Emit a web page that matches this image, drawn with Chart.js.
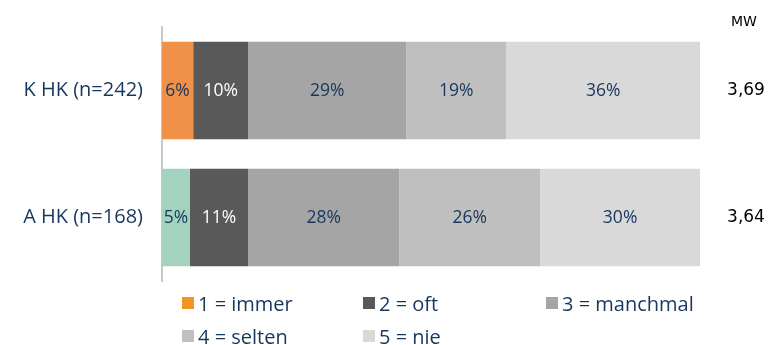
<!DOCTYPE html>
<html><head><meta charset="utf-8">
<script src="https://cdn.jsdelivr.net/npm/chart.js@4.4.1/dist/chart.umd.min.js"></script>
<style>
html,body{margin:0;padding:0;background:#fff;}
#wrap{position:relative;width:774px;height:345px;}
#legend{position:absolute;left:0;top:0;width:774px;height:345px;pointer-events:none;font-family:"Open Sans",sans-serif;font-size:20px;color:#17375E;}
.li{position:absolute;display:flex;align-items:center;white-space:nowrap;height:24px;}
.sw{width:12px;height:12px;margin-right:4px;}
</style></head>
<body><div id="wrap"><canvas id="c" width="774" height="345"></canvas><div id="legend"></div></div>
<script>
const categories = ["K HK (n=242)", "A HK (n=168)"];
const seriesNames = ["1 = immer", "2 = oft", "3 = manchmal", "4 = selten", "5 = nie"];
const immer    = [5.8, 5.2];
const oft      = [10.2, 10.8];
const manchmal = [29.4, 28.1];
const selten   = [18.6, 26.2];
const nie      = [36.0, 29.7];
const pctLabels = [["6%","5%"],["10%","11%"],["29%","28%"],["19%","26%"],["36%","30%"]];
const mwHeader = "MW";
const mwValues = ["3,69", "3,64"];

const seriesData = [immer, oft, manchmal, selten, nie];
const barColors = [["#F0914A","#A3D3BE"], "#595959", "#A5A5A5", "#BFBFBF", "#D9D9D9"];
const legendColors = ["#F39325", "#595959", "#A5A5A5", "#BFBFBF", "#D9D9D9"];
const labelColors = ["#17375E", "#FFFFFF", "#17375E", "#17375E", "#17375E"];
const navy = "#17375E";

const labelPlugin = {
  id: 'segLabels',
  afterDatasetsDraw(chart) {
    const ctx = chart.ctx;
    ctx.save();
    ctx.font = '17.5px "Open Sans", sans-serif';
    ctx.textAlign = 'center';
    ctx.textBaseline = 'middle';
    chart.data.datasets.forEach((ds, di) => {
      const meta = chart.getDatasetMeta(di);
      meta.data.forEach((el, i) => {
        const cx = (el.x + el.base) / 2;
        ctx.fillStyle = labelColors[di];
        ctx.fillText(pctLabels[di][i], cx, el.y + 1);
      });
    });
    // MW column
    ctx.font = '14px "DejaVu Sans", sans-serif';
    ctx.fillStyle = '#000';
    ctx.fillText(mwHeader, 744, 22);
    ctx.font = '17px "DejaVu Sans", sans-serif';
    const meta0 = chart.getDatasetMeta(0);
    meta0.data.forEach((el, i) => {
      ctx.fillText(mwValues[i], 746, el.y);
    });
    ctx.restore();
  }
};

new Chart(document.getElementById('c'), {
  type: 'bar',
  data: {
    labels: categories,
    datasets: seriesData.map((d, i) => ({
      label: seriesNames[i],
      data: d,
      backgroundColor: barColors[i],
      borderWidth: 0,
      barPercentage: 0.767,
      categoryPercentage: 1.0
    }))
  },
  options: {
    indexAxis: 'y',
    responsive: false,
    animation: false,
    layout: { padding: { left: 0, right: 74, top: 27, bottom: 64 } },
    plugins: { legend: { display: false }, tooltip: { enabled: false } },
    scales: {
      x: { stacked: true, min: 0, max: 100, display: false },
      y: {
        stacked: true,
        grid: { display: false, drawTicks: false },
        border: { display: true, color: '#C8C8C8', width: 2 },
        ticks: { color: navy, padding: 19, font: { family: '"Open Sans", sans-serif', size: 20 } },
        afterFit(s) { s.width = 162; s.paddingTop = 0; s.paddingBottom = 0; }
      }
    }
  },
  plugins: [labelPlugin]
});

// HTML legend
const legendPos = [[182,303],[363,303],[546,303],[182,336],[363,336]];
const lg = document.getElementById('legend');
seriesNames.forEach((n, i) => {
  const d = document.createElement('div');
  d.className = 'li';
  d.style.left = legendPos[i][0] + 'px';
  d.style.top = (legendPos[i][1] - 12) + 'px';
  d.innerHTML = '<span class="sw" style="background:' + legendColors[i] + '"></span><span>' + n + '</span>';
  lg.appendChild(d);
});
</script></body></html>
